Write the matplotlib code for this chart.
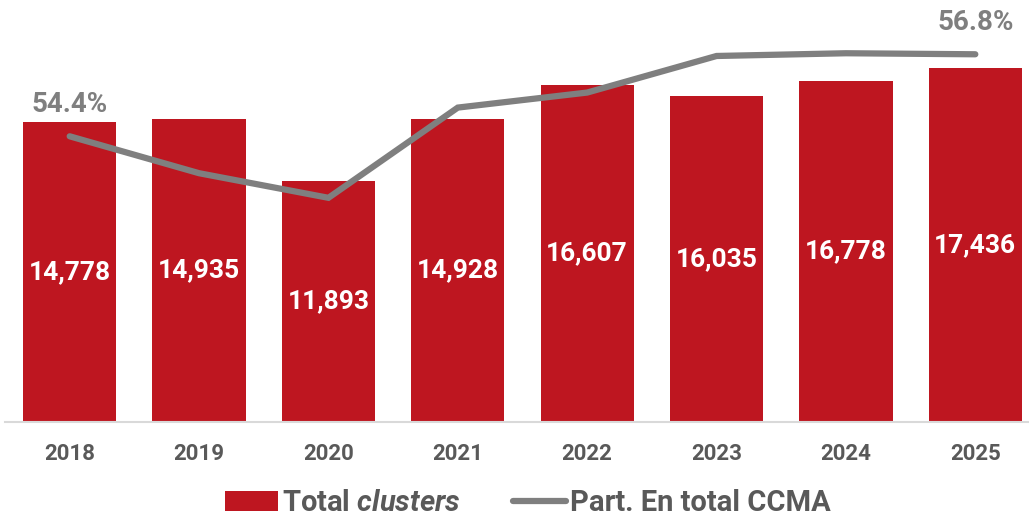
import matplotlib.pyplot as plt
from matplotlib.patches import Patch
from matplotlib.lines import Line2D

plt.rcParams['font.family'] = ['Roboto', 'DejaVu Sans']
plt.rcParams['mathtext.fontset'] = 'custom'
plt.rcParams['mathtext.rm'] = 'Roboto:bold'
plt.rcParams['mathtext.it'] = 'Roboto:italic:bold'

# Data
years = ['2018', '2019', '2020', '2021', '2022', '2023', '2024', '2025']
clusters = [14778, 14935, 11893, 14928, 16607, 16035, 16778, 17436]
share_ccma = [54.4, 53.32, 52.6, 55.24, 55.68, 56.75, 56.83, 56.8]

BAR_COLOR = '#BE1620'
LINE_COLOR = '#7F7F7F'
TEXT_COLOR = '#595959'

fig = plt.figure(figsize=(10.29, 5.17), dpi=100)
ax1 = fig.add_axes([5 / 1029, 95 / 517, 1024 / 1029, 406 / 517])

x = range(len(years))
bars = ax1.bar(x, clusters, width=0.72, color=BAR_COLOR, zorder=2)
ax1.set_xlim(-0.5, 7.415)
ax1.set_ylim(0, 20000)

# value labels in the middle of each bar
for xi, v in zip(x, clusters):
    ax1.text(xi, v / 2, f'{v:,}', ha='center', va='center', color='white',
             fontsize=19, fontweight='bold')

ax1.set_xticks(list(x))
ax1.set_xticklabels(years, fontsize=16, fontweight='bold', color=TEXT_COLOR)
ax1.tick_params(axis='x', length=0, pad=15)
ax1.set_yticks([])
for s in ['top', 'left', 'right']:
    ax1.spines[s].set_visible(False)
ax1.spines['bottom'].set_color('#D9D9D9')
ax1.spines['bottom'].set_linewidth(1.5)

# Share line on second axis
ax2 = ax1.twinx()
ax2.plot(list(x), share_ccma, color=LINE_COLOR, linewidth=4.5,
         solid_capstyle='round', solid_joinstyle='miter')
ax2.set_ylim(46.04, 57.92)
ax2.set_yticks([])
for s in ['top', 'left', 'right', 'bottom']:
    ax2.spines[s].set_visible(False)

for i in [0, len(years) - 1]:
    ax2.annotate(f'{share_ccma[i]:.1f}%', (i, share_ccma[i]), xytext=(0, 23),
                 textcoords='offset points', ha='center', va='center',
                 fontsize=20, fontweight='bold', color=LINE_COLOR)

# Legend
handles = [Patch(facecolor=BAR_COLOR, edgecolor='none'),
           Line2D([0], [0], color=LINE_COLOR, linewidth=4.5, solid_capstyle='round')]
labels = [r'Total $\mathit{clusters}$', 'Part. En total CCMA']
leg = fig.legend(handles, labels, loc='center', bbox_to_anchor=(0.513, 14 / 517),
                 ncol=2, frameon=False, handlelength=1.8, handletextpad=0.15,
                 columnspacing=1.8, prop={'size': 21, 'weight': 'bold'})
for t in leg.get_texts():
    t.set_color(TEXT_COLOR)

fig.savefig('out.png', dpi=100)
